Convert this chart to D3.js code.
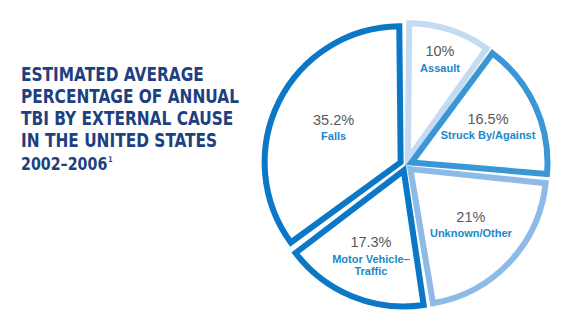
<!DOCTYPE html>
<html>
<head>
<meta charset="utf-8">
<script src="https://cdn.jsdelivr.net/npm/d3@7"></script>
<style>
  body { margin: 0; background: #fff; }
  svg { display: block; }
</style>
</head>
<body>
<script>
// data, clockwise from 12 o'clock
var categories = ["Assault", "Struck By/Against", "Unknown/Other", "Motor Vehicle–Traffic", "Falls"];
var values = [10, 16.5, 21, 17.3, 35.2];
var valueLabels = ["10%", "16.5%", "21%", "17.3%", "35.2%"];
var labelLines = [["Assault"], ["Struck By/Against"], ["Unknown/Other"], ["Motor Vehicle–", "Traffic"], ["Falls"]];
var titleLines = ["ESTIMATED AVERAGE", "PERCENTAGE OF ANNUAL", "TBI BY EXTERNAL CAUSE", "IN THE UNITED STATES"];
var titleYears = "2002–2006";
var footnoteMark = "1";

var width = 570, height = 333;
var cx = 406, cy = 165, radius = 136;
var explode = 6;
var sliceColor = {
    "Assault": "#c5dbf1",
    "Struck By/Against": "#3b96d6",
    "Unknown/Other": "#8dbae6",
    "Motor Vehicle–Traffic": "#0a78c6",
    "Falls": "#0a78c6"
};
var labelRadius = {
    "Assault": 110,
    "Struck By/Against": 90,
    "Unknown/Other": 89,
    "Motor Vehicle–Traffic": 93,
    "Falls": 81
};

var svg = d3.select("body").append("svg")
    .attr("width", width)
    .attr("height", height);

// title block (condensed font squeezed a bit more to match)
var title = svg.append("g")
    .attr("transform", "translate(21,0) scale(0.855,1)")
    .attr("fill", "#1e3f80")
    .style("font-family", "'DejaVu Sans Condensed', 'DejaVu Sans', sans-serif")
    .style("font-weight", "bold");

titleLines.forEach(function (t, i) {
    title.append("text")
        .attr("x", 0)
        .attr("y", 81.5 + i * 22)
        .style("font-size", "20px")
        .text(t);
});
var years = title.append("text")
    .attr("x", 0)
    .attr("y", 170)
    .style("font-size", "18.5px")
    .text(titleYears);
years.append("tspan")
    .attr("dy", -8)
    .attr("dx", 1)
    .style("font-size", "8px")
    .text(footnoteMark);

// pie
var pie = d3.pie().sort(null).value(function (d) { return d; });
var arcs = pie(values);
var arc = d3.arc().innerRadius(0).outerRadius(radius).padAngle(0.02);

var chart = svg.append("g")
    .attr("transform", "translate(" + cx + "," + cy + ")");

function midDir(d) {
    var a = (d.startAngle + d.endAngle) / 2;
    return [Math.sin(a), -Math.cos(a)];
}

chart.selectAll("path.slice")
    .data(arcs)
    .enter().append("path")
    .attr("class", "slice")
    .attr("transform", function (d) {
        var m = midDir(d);
        return "translate(" + (m[0] * explode) + "," + (m[1] * explode) + ")";
    })
    .attr("d", arc)
    .attr("fill", "#fff")
    .attr("stroke", function (d, i) { return sliceColor[categories[i]]; })
    .attr("stroke-width", 6)
    .attr("stroke-linejoin", "miter");

var labels = chart.selectAll("g.label")
    .data(arcs)
    .enter().append("g")
    .attr("class", "label")
    .attr("transform", function (d, i) {
        var m = midDir(d), r = labelRadius[categories[i]];
        return "translate(" + (m[0] * r) + "," + (m[1] * r) + ")";
    })
    .style("font-family", "'Liberation Sans', Arial, sans-serif")
    .attr("text-anchor", "middle");

labels.append("text")
    .attr("y", -4)
    .attr("fill", "#58595b")
    .style("font-size", "14.5px")
    .text(function (d, i) { return valueLabels[i]; });

labels.each(function (d, i) {
    var g = d3.select(this);
    labelLines[i].forEach(function (line, j) {
        g.append("text")
            .attr("y", 11.5 + j * 12)
            .attr("fill", "#1b88c9")
            .style("font-size", "11px")
            .style("font-weight", "bold")
            .text(line);
    });
});
</script>
</body>
</html>
